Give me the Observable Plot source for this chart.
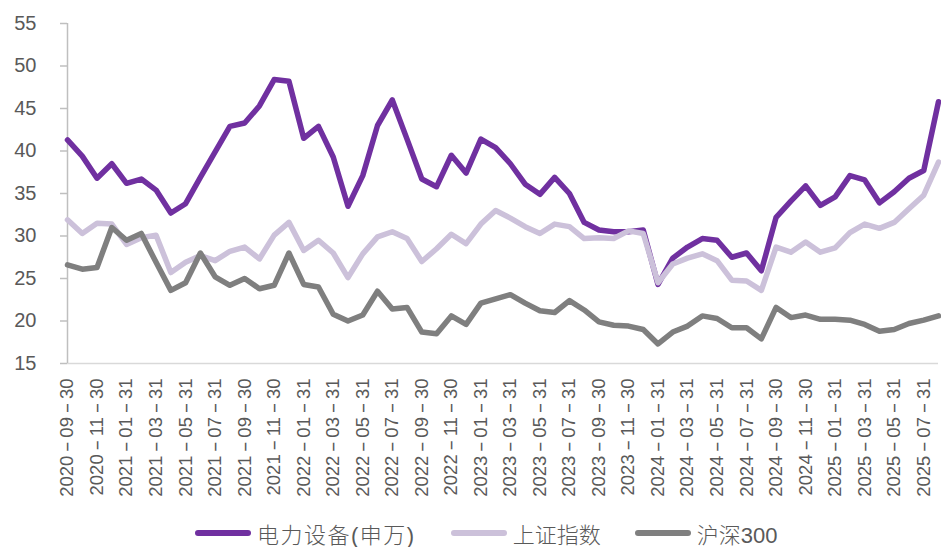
<!DOCTYPE html>
<html>
<head>
<meta charset="utf-8">
<script src="https://cdn.jsdelivr.net/npm/d3@7"></script>
<script src="https://cdn.jsdelivr.net/npm/@observablehq/plot@0.6"></script>
<style>
  html, body { margin: 0; padding: 0; background: #fff; }
  #chart { position: absolute; left: 0; top: 0; }
  #chart svg { display: block; }
  #legend { position: absolute; left: 195px; top: 519px; display: flex; align-items: center;
    font-family: "Liberation Sans", "Noto Sans CJK SC", sans-serif; font-size: 22px; font-weight: 300; color: #595959; white-space: nowrap; }
  #legend .sw { display: inline-block; width: 56px; height: 6px; border-radius: 3px; margin-right: 6px; }
  #legend .it { display: flex; align-items: center; height: 28px; }
</style>
</head>
<body>
<div id="chart"></div>
<div id="legend"></div>
<script>
const dates = [
  "2020-09-30","2020-10-31","2020-11-30","2020-12-31",
  "2021-01-31","2021-02-28","2021-03-31","2021-04-30","2021-05-31","2021-06-30","2021-07-31","2021-08-31","2021-09-30","2021-10-31","2021-11-30","2021-12-31",
  "2022-01-31","2022-02-28","2022-03-31","2022-04-30","2022-05-31","2022-06-30","2022-07-31","2022-08-31","2022-09-30","2022-10-31","2022-11-30","2022-12-31",
  "2023-01-31","2023-02-28","2023-03-31","2023-04-30","2023-05-31","2023-06-30","2023-07-31","2023-08-31","2023-09-30","2023-10-31","2023-11-30","2023-12-31",
  "2024-01-31","2024-02-29","2024-03-31","2024-04-30","2024-05-31","2024-06-30","2024-07-31","2024-08-31","2024-09-30","2024-10-31","2024-11-30","2024-12-31",
  "2025-01-31","2025-02-28","2025-03-31","2025-04-30","2025-05-31","2025-06-30","2025-07-31","2025-08-31"
];

const seriesNames = ["电力设备(申万)", "上证指数", "沪深300"];
const seriesColors = ["#7030A0", "#CCC1DA", "#7F7F7F"];

const powerEquip = [
  41.3, 39.4, 36.8, 38.5, 36.2, 36.7, 35.4, 32.7, 33.8, 36.9, 39.9, 42.9, 43.3, 45.3, 48.4, 48.2,
  41.5, 42.9, 39.3, 33.5, 37.1, 43.0, 46.0, 41.4, 36.7, 35.8, 39.5, 37.4,
  41.4, 40.4, 38.5, 36.1, 34.9, 36.9, 35.0, 31.6, 30.7, 30.5, 30.5, 30.7,
  24.3, 27.4, 28.7, 29.7, 29.5, 27.5, 28.0, 25.9, 32.2, 34.1, 35.9, 33.6,
  34.6, 37.1, 36.6, 33.9, 35.2, 36.8, 37.7, 45.8
];
const shanghai = [
  31.9, 30.3, 31.5, 31.4, 29.0, 29.8, 30.1, 25.7, 26.9, 27.7, 27.1, 28.2, 28.7, 27.3, 30.1, 31.6,
  28.3, 29.5, 28.0, 25.1, 27.9, 29.9, 30.5, 29.7, 27.0, 28.5, 30.2, 29.1,
  31.4, 33.0, 32.1, 31.1, 30.3, 31.4, 31.1, 29.7, 29.8, 29.7, 30.6, 30.3,
  24.5, 26.7, 27.4, 27.9, 27.1, 24.8, 24.7, 23.6, 28.7, 28.1, 29.3, 28.1,
  28.6, 30.4, 31.4, 30.9, 31.6, 33.2, 34.8, 38.7
];
const hs300 = [
  26.6, 26.1, 26.3, 31.0, 29.5, 30.3, 26.9, 23.6, 24.5, 28.0, 25.2, 24.2, 25.0, 23.8, 24.2, 28.0,
  24.3, 24.0, 20.8, 20.0, 20.7, 23.5, 21.4, 21.6, 18.7, 18.5, 20.6, 19.6,
  22.1, 22.6, 23.1, 22.1, 21.2, 21.0, 22.4, 21.3, 19.9, 19.5, 19.4, 19.0,
  17.3, 18.7, 19.4, 20.6, 20.3, 19.2, 19.2, 17.9, 21.6, 20.4, 20.7, 20.2,
  20.2, 20.1, 19.6, 18.8, 19.0, 19.7, 20.1, 20.6
];

const yTicks = [15, 20, 25, 30, 35, 40, 45, 50, 55];
const xTicks = dates.filter((d, i) => i % 2 === 0);

const allSeries = [powerEquip, shanghai, hs300];
const rows = (k) => dates.map((d, i) => ({date: d, value: allSeries[k][i], series: seriesNames[k]}));

const plot = Plot.plot({
  width: 941,
  height: 505,
  marginLeft: 67,
  marginRight: 3,
  marginTop: 23,
  marginBottom: 142,
  style: {fontFamily: "'Liberation Sans', Arial, sans-serif", background: "#fff"},
  x: {type: "point", domain: dates, padding: 0},
  y: {domain: [15, 55]},
  color: {domain: seriesNames, range: seriesColors},
  marks: [
    Plot.ruleY([15], {stroke: "#D9D9D9", strokeWidth: 1.5}),
    Plot.ruleX([dates[0]], {y1: 15, y2: 55, stroke: "#BFBFBF", strokeWidth: 1.5}),
    Plot.axisY(yTicks, {tickSize: 7, tickPadding: 24, stroke: "#BFBFBF", strokeWidth: 1.5, fill: "#595959", fontSize: 20, label: null}),
    Plot.axisX(xTicks, {tickSize: 0, tickPadding: 15, tickRotate: -90, fill: "#595959", fontSize: 18.5, label: null}),
    Plot.line(rows(0), {x: "date", y: "value", stroke: "series", strokeWidth: 5.5, strokeLinejoin: "round"}),
    Plot.line(rows(1), {x: "date", y: "value", stroke: "series", strokeWidth: 5.5, strokeLinejoin: "round"}),
    Plot.line(rows(2), {x: "date", y: "value", stroke: "series", strokeWidth: 5.5, strokeLinejoin: "round"})
  ]
});
document.getElementById("chart").appendChild(plot);

// widen the dashes in the date tick labels (text content stays the same)
const NS = "http://www.w3.org/2000/svg";
plot.querySelectorAll('[aria-label="x-axis tick label"] text').forEach((t) => {
  const s = t.textContent;
  const parts = s.split("-");
  t.textContent = "";
  parts.forEach((p, i) => {
    if (i > 0) {
      const h = document.createElementNS(NS, "tspan");
      h.setAttribute("dx", "3.5");
      h.setAttribute("textLength", "11");
      h.setAttribute("lengthAdjust", "spacingAndGlyphs");
      h.textContent = "-";
      t.appendChild(h);
    }
    const ts = document.createElementNS(NS, "tspan");
    if (i > 0) ts.setAttribute("dx", "3.5");
    ts.textContent = p;
    t.appendChild(ts);
  });
});

const legend = document.getElementById("legend");
const gaps = [35, 34, 0];
seriesNames.forEach((name, i) => {
  const it = document.createElement("div");
  it.className = "it";
  it.style.marginRight = gaps[i] + "px";
  const sw = document.createElement("span");
  sw.className = "sw";
  sw.style.background = seriesColors[i];
  const tx = document.createElement("span");
  tx.textContent = name;
  if (i === 0) tx.style.letterSpacing = "1.5px";
  it.appendChild(sw);
  it.appendChild(tx);
  legend.appendChild(it);
});
</script>
</body>
</html>
